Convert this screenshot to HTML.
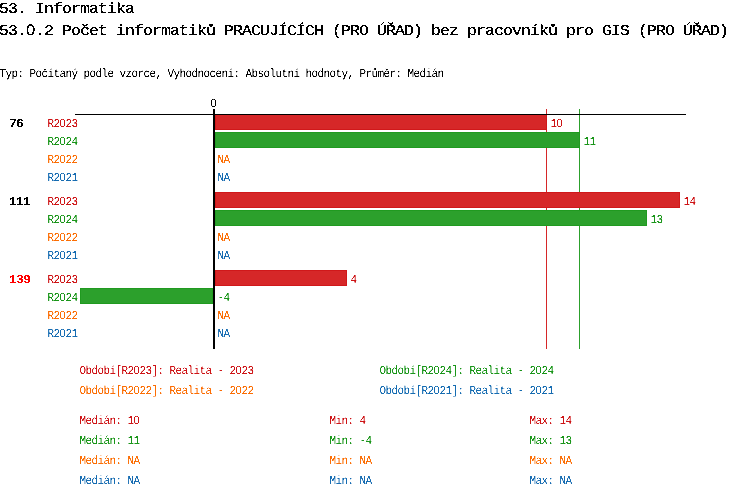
<!DOCTYPE html>
<html><head><meta charset="utf-8"><title>53.0.2</title>
<style>
html,body{margin:0;padding:0;background:#fff;width:750px;height:498px;overflow:hidden}
svg{display:block;will-change:transform}
text{font-family:"Liberation Mono","DejaVu Sans Mono",monospace;white-space:pre;text-rendering:geometricPrecision}
.b{font-size:15px;font-weight:normal;stroke:#000;stroke-width:0.22px}
.s{font-size:12px}
.z{font-family:"Liberation Sans",sans-serif}
.m{font-size:12px;font-weight:bold}
</style></head><body>
<svg width="750" height="498" viewBox="0 0 750 498" shape-rendering="crispEdges">
<defs><filter id="th3" filterUnits="userSpaceOnUse" x="0" y="0" width="750" height="498" color-interpolation-filters="sRGB"><feComponentTransfer><feFuncA type="discrete" tableValues="0 1"/></feComponentTransfer></filter><filter id="th2" filterUnits="userSpaceOnUse" x="0" y="0" width="750" height="498" color-interpolation-filters="sRGB"><feComponentTransfer><feFuncA type="discrete" tableValues="0 1"/></feComponentTransfer></filter><filter id="ts" filterUnits="userSpaceOnUse" x="0" y="0" width="750" height="498" color-interpolation-filters="sRGB"><feComponentTransfer><feFuncA type="table" tableValues="0 0 1 1"/></feComponentTransfer></filter></defs><rect x="546" y="109" width="1" height="240" fill="#d62728"/>
<rect x="579" y="109" width="1" height="240" fill="#2ca02c"/>
<rect x="215" y="114" width="332" height="16" fill="#d0181a"/>
<rect x="216" y="115" width="330" height="14" fill="#d62728"/>
<rect x="215" y="132" width="365" height="16" fill="#209a20"/>
<rect x="216" y="133" width="363" height="14" fill="#2ca02c"/>
<rect x="215" y="192" width="465" height="16" fill="#d0181a"/>
<rect x="216" y="193" width="463" height="14" fill="#d62728"/>
<rect x="215" y="210" width="432" height="16" fill="#209a20"/>
<rect x="216" y="211" width="430" height="14" fill="#2ca02c"/>
<rect x="215" y="270" width="132" height="16" fill="#d0181a"/>
<rect x="216" y="271" width="130" height="14" fill="#d62728"/>
<rect x="80" y="288" width="133" height="16" fill="#209a20"/>
<rect x="81" y="289" width="131" height="14" fill="#2ca02c"/>
<rect x="75" y="114" width="611" height="1" fill="#000"/>
<rect x="213" y="109" width="2" height="240" fill="#000"/>
<g filter="url(#th3)">
<text class="b" transform="scale(1.1,1)" x="-0.909 7.273 15.455 23.636 31.818 40.000 48.182 56.364 64.545 72.727 80.909 89.091 97.273 105.455 113.636" y="13" fill="#000">53. Informatika</text>
<text class="b" transform="scale(1.1,1)" x="-0.909 7.273 15.455 23.636 31.818 40.000 48.182 56.364 64.545 72.727 80.909 89.091 97.273 105.455 113.636 121.818 130.000 138.182 146.364 154.545 162.727 170.909 179.091 187.273 195.455 203.636 211.818 220.000 228.182 236.364 244.545 252.727 260.909 269.091 277.273 285.455 293.636 301.818 310.000 318.182 326.364 334.545 342.727 350.909 359.091 367.273 375.455 383.636 391.818 400.000 408.182 416.364 424.545 432.727 440.909 449.091 457.273 465.455 473.636 481.818 490.000 498.182 506.364 514.545 522.727 530.909 539.091 547.273 555.455 563.636 571.818 580.000 588.182 596.364 604.545 612.727 620.909 629.091 637.273 645.455 653.636" y="35" fill="#000">53.<tspan class="z">0</tspan>.2 Počet informatiků PRACUJÍCÍCH (PRO ÚŘAD) bez pracovníků pro GIS (PRO ÚŘAD)</text>
</g>
<g filter="url(#th2)">
<text class="m" transform="scale(1.1,1)" x="8.182 14.545" y="127" fill="#000">76</text>
<text class="m" transform="scale(1.1,1)" x="8.182 14.545 20.909" y="205" fill="#000">111</text>
<text class="m" transform="scale(1.1,1)" x="8.182 14.545 20.909" y="283" fill="#ff0000">139</text>
</g>
<g filter="url(#ts)">
<text class="s" transform="scale(0.92,1)" x="-0.652 5.870 12.391 18.913 25.435 31.957 38.478 45.000 51.522 58.043 64.565 71.087 77.609 84.130 90.652 97.174 103.696 110.217 116.739 123.261 129.783 136.304 142.826 149.348 155.870 162.391 168.913 175.435 181.957 188.478 195.000 201.522 208.043 214.565 221.087 227.609 234.130 240.652 247.174 253.696 260.217 266.739 273.261 279.783 286.304 292.826 299.348 305.870 312.391 318.913 325.435 331.957 338.478 345.000 351.522 358.043 364.565 371.087 377.609 384.130 390.652 397.174 403.696 410.217 416.739 423.261 429.783 436.304 442.826 449.348 455.870 462.391 468.913 475.435" y="77" fill="#000">Typ: Počítaný podle vzorce, Vyhodnocení: Absolutní hodnoty, Průměr: Medián</text>
<text class="s" transform="scale(0.92,1)" x="228.696" y="107" fill="#000"><tspan class="z">0</tspan></text>
<text class="s" transform="scale(0.92,1)" x="51.522 58.043 64.565 71.087 77.609" y="127" fill="#ce1416">R2<tspan class="z">0</tspan>23</text>
<text class="s" transform="scale(0.92,1)" x="598.261 604.783" y="127" fill="#ce1416">1<tspan class="z">0</tspan></text>
<text class="s" transform="scale(0.92,1)" x="51.522 58.043 64.565 71.087 77.609" y="145" fill="#1a961a">R2<tspan class="z">0</tspan>24</text>
<text class="s" transform="scale(0.92,1)" x="634.130 640.652" y="145" fill="#1a961a">11</text>
<text class="s" transform="scale(0.92,1)" x="51.522 58.043 64.565 71.087 77.609" y="163" fill="#fc6e04">R2<tspan class="z">0</tspan>22</text>
<text class="s" transform="scale(0.92,1)" x="236.304 242.826" y="163" fill="#fc6e04">NA</text>
<text class="s" transform="scale(0.92,1)" x="51.522 58.043 64.565 71.087 77.609" y="181" fill="#166cb2">R2<tspan class="z">0</tspan>21</text>
<text class="s" transform="scale(0.92,1)" x="236.304 242.826" y="181" fill="#166cb2">NA</text>
<text class="s" transform="scale(0.92,1)" x="51.522 58.043 64.565 71.087 77.609" y="205" fill="#ce1416">R2<tspan class="z">0</tspan>23</text>
<text class="s" transform="scale(0.92,1)" x="742.826 749.348" y="205" fill="#ce1416">14</text>
<text class="s" transform="scale(0.92,1)" x="51.522 58.043 64.565 71.087 77.609" y="223" fill="#1a961a">R2<tspan class="z">0</tspan>24</text>
<text class="s" transform="scale(0.92,1)" x="706.957 713.478" y="223" fill="#1a961a">13</text>
<text class="s" transform="scale(0.92,1)" x="51.522 58.043 64.565 71.087 77.609" y="241" fill="#fc6e04">R2<tspan class="z">0</tspan>22</text>
<text class="s" transform="scale(0.92,1)" x="236.304 242.826" y="241" fill="#fc6e04">NA</text>
<text class="s" transform="scale(0.92,1)" x="51.522 58.043 64.565 71.087 77.609" y="259" fill="#166cb2">R2<tspan class="z">0</tspan>21</text>
<text class="s" transform="scale(0.92,1)" x="236.304 242.826" y="259" fill="#166cb2">NA</text>
<text class="s" transform="scale(0.92,1)" x="51.522 58.043 64.565 71.087 77.609" y="283" fill="#ce1416">R2<tspan class="z">0</tspan>23</text>
<text class="s" transform="scale(0.92,1)" x="380.870" y="283" fill="#ce1416">4</text>
<text class="s" transform="scale(0.92,1)" x="51.522 58.043 64.565 71.087 77.609" y="301" fill="#1a961a">R2<tspan class="z">0</tspan>24</text>
<text class="s" transform="scale(0.92,1)" x="236.304 242.826" y="301" fill="#1a961a">-4</text>
<text class="s" transform="scale(0.92,1)" x="51.522 58.043 64.565 71.087 77.609" y="319" fill="#fc6e04">R2<tspan class="z">0</tspan>22</text>
<text class="s" transform="scale(0.92,1)" x="236.304 242.826" y="319" fill="#fc6e04">NA</text>
<text class="s" transform="scale(0.92,1)" x="51.522 58.043 64.565 71.087 77.609" y="337" fill="#166cb2">R2<tspan class="z">0</tspan>21</text>
<text class="s" transform="scale(0.92,1)" x="236.304 242.826" y="337" fill="#166cb2">NA</text>
<text class="s" transform="scale(0.92,1)" x="86.304 92.826 99.348 105.870 112.391 118.913 125.435 131.957 138.478 145.000 151.522 158.043 164.565 171.087 177.609 184.130 190.652 197.174 203.696 210.217 216.739 223.261 229.783 236.304 242.826 249.348 255.870 262.391 268.913" y="374" fill="#ce1416">Období[R2<tspan class="z">0</tspan>23]: Realita - 2<tspan class="z">0</tspan>23</text>
<text class="s" transform="scale(0.92,1)" x="412.391 418.913 425.435 431.957 438.478 445.000 451.522 458.043 464.565 471.087 477.609 484.130 490.652 497.174 503.696 510.217 516.739 523.261 529.783 536.304 542.826 549.348 555.870 562.391 568.913 575.435 581.957 588.478 595.000" y="374" fill="#1a961a">Období[R2<tspan class="z">0</tspan>24]: Realita - 2<tspan class="z">0</tspan>24</text>
<text class="s" transform="scale(0.92,1)" x="86.304 92.826 99.348 105.870 112.391 118.913 125.435 131.957 138.478 145.000 151.522 158.043 164.565 171.087 177.609 184.130 190.652 197.174 203.696 210.217 216.739 223.261 229.783 236.304 242.826 249.348 255.870 262.391 268.913" y="394" fill="#fc6e04">Období[R2<tspan class="z">0</tspan>22]: Realita - 2<tspan class="z">0</tspan>22</text>
<text class="s" transform="scale(0.92,1)" x="412.391 418.913 425.435 431.957 438.478 445.000 451.522 458.043 464.565 471.087 477.609 484.130 490.652 497.174 503.696 510.217 516.739 523.261 529.783 536.304 542.826 549.348 555.870 562.391 568.913 575.435 581.957 588.478 595.000" y="394" fill="#166cb2">Období[R2<tspan class="z">0</tspan>21]: Realita - 2<tspan class="z">0</tspan>21</text>
<text class="s" transform="scale(0.92,1)" x="86.304 92.826 99.348 105.870 112.391 118.913 125.435 131.957 138.478 145.000" y="424" fill="#ce1416">Medián: 1<tspan class="z">0</tspan></text>
<text class="s" transform="scale(0.92,1)" x="358.043 364.565 371.087 377.609 384.130 390.652" y="424" fill="#ce1416">Min: 4</text>
<text class="s" transform="scale(0.92,1)" x="575.435 581.957 588.478 595.000 601.522 608.043 614.565" y="424" fill="#ce1416">Max: 14</text>
<text class="s" transform="scale(0.92,1)" x="86.304 92.826 99.348 105.870 112.391 118.913 125.435 131.957 138.478 145.000" y="444" fill="#1a961a">Medián: 11</text>
<text class="s" transform="scale(0.92,1)" x="358.043 364.565 371.087 377.609 384.130 390.652 397.174" y="444" fill="#1a961a">Min: -4</text>
<text class="s" transform="scale(0.92,1)" x="575.435 581.957 588.478 595.000 601.522 608.043 614.565" y="444" fill="#1a961a">Max: 13</text>
<text class="s" transform="scale(0.92,1)" x="86.304 92.826 99.348 105.870 112.391 118.913 125.435 131.957 138.478 145.000" y="464" fill="#fc6e04">Medián: NA</text>
<text class="s" transform="scale(0.92,1)" x="358.043 364.565 371.087 377.609 384.130 390.652 397.174" y="464" fill="#fc6e04">Min: NA</text>
<text class="s" transform="scale(0.92,1)" x="575.435 581.957 588.478 595.000 601.522 608.043 614.565" y="464" fill="#fc6e04">Max: NA</text>
<text class="s" transform="scale(0.92,1)" x="86.304 92.826 99.348 105.870 112.391 118.913 125.435 131.957 138.478 145.000" y="484" fill="#166cb2">Medián: NA</text>
<text class="s" transform="scale(0.92,1)" x="358.043 364.565 371.087 377.609 384.130 390.652 397.174" y="484" fill="#166cb2">Min: NA</text>
<text class="s" transform="scale(0.92,1)" x="575.435 581.957 588.478 595.000 601.522 608.043 614.565" y="484" fill="#166cb2">Max: NA</text>
</g>
</svg>
</body></html>
